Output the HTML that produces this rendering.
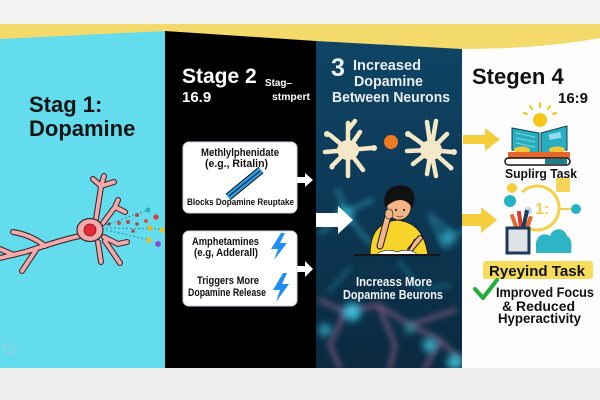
<!DOCTYPE html>
<html><head><meta charset="utf-8"><style>
html,body{margin:0;padding:0;width:600px;height:400px;overflow:hidden;background:#f2f2f0}
svg{display:block}
text{font-family:"Liberation Sans",Arial,sans-serif;font-weight:bold}
</style></head><body>
<svg width="600" height="400" viewBox="0 0 600 400" xmlns="http://www.w3.org/2000/svg">
<defs>
<filter id="b3" x="-30%" y="-30%" width="160%" height="160%"><feGaussianBlur stdDeviation="3"/></filter>
<filter id="b5" x="-50%" y="-50%" width="200%" height="200%"><feGaussianBlur stdDeviation="4"/></filter>
<linearGradient id="bl" x1="0" y1="0" x2="0" y2="1"><stop offset="0" stop-color="#0f4464"/><stop offset="0.45" stop-color="#0d3a57"/><stop offset="1" stop-color="#0a2940"/></linearGradient>
<clipPath id="c3"><polygon points="316,41 462,49 462,368 316,368"/></clipPath>
</defs>
<rect width="600" height="400" fill="#f2f2f0"/>
<rect x="0" y="368" width="600" height="32" fill="#eeeeec"/>
<rect x="0" y="24" width="600" height="40" fill="#f4da6a"/>
<path d="M462,49 Q540,49 600,38 L600,368 L462,368Z" fill="#fdfdfd"/>
<polygon points="0,39 165,31 165,368 0,368" fill="#63dded"/>
<polygon points="165,31 316,41 316,368 165,368" fill="#000"/>
<polygon points="316,41 462,49 462,368 316,368" fill="url(#bl)"/>

<!-- panel 3 blurred network -->
<g clip-path="url(#c3)">
<g filter="url(#b3)" fill="none" stroke-linecap="round">
 <path d="M322,232 L345,212 L372,200 M345,212 L338,190 M345,212 L362,234 L380,252" stroke="#2f9fb8" stroke-width="4" opacity=".6"/>
 <path d="M430,215 L455,235 L470,228 M430,215 L445,248" stroke="#2f9fb8" stroke-width="4" opacity=".5"/>
 <path d="M320,300 L345,312 L378,305 L410,325 L440,340 M378,305 L395,345 L390,368 M345,312 L330,345 L340,368 M410,325 L455,310 M440,340 L460,360 M440,340 L425,368" stroke="#8a5b80" stroke-width="4" opacity=".8"/>
 <path d="M350,268 L330,290 M400,262 L420,290 L450,285" stroke="#2a8fa8" stroke-width="3" opacity=".6"/>
</g>
<g filter="url(#b5)" opacity=".85">
 <circle cx="352" cy="312" r="9" fill="#3fd0e8"/>
 <circle cx="430" cy="345" r="7" fill="#3fc8e0"/>
 <circle cx="455" cy="362" r="8" fill="#3fc8e0"/>
 <circle cx="325" cy="330" r="6" fill="#35b8d0"/>
 <circle cx="345" cy="215" r="8" fill="#36b8d4"/>
 <circle cx="448" cy="238" r="7" fill="#36b8d4"/>
 <circle cx="410" cy="328" r="5" fill="#33aabb"/>
</g>
</g>

<!-- panel 1 -->
<text x="29" y="112" font-size="22" fill="#141414">Stag 1:</text>
<text x="29" y="136" font-size="22" fill="#141414">Dopamine</text>
<g fill="none" stroke-linecap="round" stroke-linejoin="round">
 <g stroke="#3a2a2c" stroke-width="6">
  <path d="M80,236 C60,240 45,246 25,252 L0,258 M45,246 C35,238 25,234 13,232 M36,250 L28,262 L22,271 M14,255 L0,249 M96,219 C98,205 100,195 101,186 M101,186 L93,179 M101,186 L104,176 M101,186 L114,182 M103,223 L115,207 L118,200 M115,207 L125,212 M104,237 L118,244 L127,242 M98,242 L101,262 M105,241 L120,263"/>
 </g>
 <g stroke="#f6a9ab" stroke-width="3.8">
  <path d="M80,236 C60,240 45,246 25,252 L0,258 M45,246 C35,238 25,234 13,232 M36,250 L28,262 L22,271 M14,255 L0,249 M96,219 C98,205 100,195 101,186 M101,186 L93,179 M101,186 L104,176 M101,186 L114,182 M103,223 L115,207 L118,200 M115,207 L125,212 M104,237 L118,244 L127,242 M98,242 L101,262 M105,241 L120,263"/>
 </g>
</g>
<ellipse cx="90" cy="230" rx="13" ry="11.5" fill="#f6a9ab" stroke="#3a2a2c" stroke-width="1.2"/>
<circle cx="90" cy="230" r="6" fill="#e8283a" stroke="#6a1a1a" stroke-width=".8"/>
<g stroke="#3d8f9e" stroke-width="1" stroke-dasharray="2,2" fill="none">
 <path d="M106,225 L148,210 M106,228 L160,229 M106,230 L150,240"/>
</g>
<circle cx="109" cy="224" r="1.6" fill="#8a3a3a"/>
<circle cx="119" cy="223" r="2" fill="#c0504a"/>
<circle cx="128" cy="222" r="2" fill="#b04a4a"/>
<circle cx="137" cy="215" r="2" fill="#b04a4a"/>
<circle cx="148" cy="210" r="2.6" fill="#2bb3b8"/>
<circle cx="156" cy="217" r="2.6" fill="#e03a3a"/>
<circle cx="146" cy="221" r="2" fill="#c55a3a"/>
<circle cx="137" cy="224" r="1.8" fill="#a04a4a"/>
<circle cx="133" cy="231" r="1.8" fill="#a04a4a"/>
<circle cx="150" cy="228" r="2.6" fill="#f0b020"/>
<circle cx="162" cy="230" r="2.6" fill="#e8c020"/>
<circle cx="149" cy="240" r="2.6" fill="#e8c020"/>
<circle cx="158" cy="244" r="2.9" fill="#8a4ad0"/>
<circle cx="9" cy="349" r="5" fill="none" stroke="#9fcfd8" stroke-width="1.5" opacity=".7"/>

<!-- panel 2 -->
<text x="182" y="83" font-size="21" fill="#fff">Stage 2</text>
<text x="182" y="102" font-size="15" fill="#fff">16.9</text>
<text x="265" y="86" font-size="10.5" fill="#fff" textLength="27" lengthAdjust="spacingAndGlyphs">Stag–</text>
<text x="272" y="100" font-size="10.5" fill="#fff" textLength="38" lengthAdjust="spacingAndGlyphs">stmpert</text>

<rect x="183" y="142" width="114" height="71" rx="6" fill="#fff" stroke="#c8d6e2" stroke-width="1"/>
<text x="201" y="156" font-size="11" fill="#111" textLength="78" lengthAdjust="spacingAndGlyphs">Methlylphenidate</text>
<text x="205" y="167" font-size="11" fill="#111" textLength="63" lengthAdjust="spacingAndGlyphs">(e.g., Ritalin)</text>
<line x1="228" y1="197" x2="261" y2="170" stroke="#111" stroke-width="8" stroke-linecap="butt"/>
<line x1="228" y1="197" x2="261" y2="170" stroke="#2a9fe8" stroke-width="6"/>
<line x1="229" y1="196" x2="260" y2="171" stroke="#0d2c4a" stroke-width="1.3"/>
<text x="187" y="205" font-size="9.5" fill="#111" textLength="107" lengthAdjust="spacingAndGlyphs">Blocks Dopamine Reuptake</text>

<rect x="183" y="231" width="114" height="75" rx="6" fill="#fff" stroke="#c8d6e2" stroke-width="1"/>
<text x="192" y="245" font-size="11" fill="#111" textLength="67" lengthAdjust="spacingAndGlyphs">Amphetamines</text>
<text x="194" y="256" font-size="11" fill="#111" textLength="64" lengthAdjust="spacingAndGlyphs">(e.g, Adderall)</text>
<text x="197" y="284" font-size="11" fill="#111" textLength="62" lengthAdjust="spacingAndGlyphs">Triggers More</text>
<text x="188" y="296" font-size="11" fill="#111" textLength="78" lengthAdjust="spacingAndGlyphs">Dopamine Release</text>
<path d="M281,233 L271,249 L278,249 L274,260 L287,243 L280,243 L285,233Z" fill="#1e8ff0"/>
<path d="M283,273 L273,290 L280,290 L276,302 L289,284 L282,284 L287,273Z" fill="#1e8ff0"/>

<path d="M297,177 L305,177 L305,173 L313,180 L305,187 L305,183 L297,183Z" fill="#fff"/>
<path d="M297,266 L305,266 L305,261 L313,269 L305,277 L305,272 L297,272Z" fill="#fff"/>

<!-- panel 3 -->
<text x="331" y="76" font-size="25" fill="#eef2f4">3</text>
<text x="353" y="70" font-size="15" fill="#e9eef0" textLength="68" lengthAdjust="spacingAndGlyphs">Increased</text>
<text x="354" y="86" font-size="15" fill="#e9eef0" textLength="69" lengthAdjust="spacingAndGlyphs">Dopamine</text>
<text x="332" y="102" font-size="15" fill="#e9eef0" textLength="118" lengthAdjust="spacingAndGlyphs">Between Neurons</text>

<g stroke="#f4e8c6" stroke-linecap="round" fill="none" stroke-width="4.5">
 <path d="M348,150 L348,123 M348,130 L355,121 M348,150 L330,135 M348,150 L325,152 M348,150 L332,166 M348,150 L348,176 M348,150 L363,170 M348,150 L372,148 M348,150 L360,132"/>
 <path d="M431,150 L427,122 M431,150 L436,121 M431,150 L410,135 M431,150 L407,151 M431,150 L413,164 M431,150 L427,174 M431,150 L436,176 M431,150 L452,152 M431,150 L447,134 M431,150 L450,167"/>
</g>
<g fill="#f4e8c6">
 <ellipse cx="348" cy="150" rx="11" ry="10"/>
 <ellipse cx="431" cy="150" rx="11" ry="10"/>
 <circle cx="327" cy="134" r="3"/><circle cx="374" cy="148" r="3"/><circle cx="332" cy="167" r="2.5"/>
 <circle cx="408" cy="134" r="3"/><circle cx="454" cy="152" r="3"/><circle cx="451" cy="168" r="2.5"/>
</g>
<circle cx="391" cy="142" r="7" fill="#f07a20"/>

<path d="M316,213 L338,213 L338,206 L353,220 L338,234 L338,227 L316,227Z" fill="#fff"/>

<!-- boy -->
<path d="M370,255 C370,235 377,222 397,220 C417,222 425,235 428,255 Z" fill="#f7d42a" stroke="#1a1a1a" stroke-width="1"/>
<path d="M380,246 L388,216" stroke="#1a1a1a" stroke-width="7" stroke-linecap="round"/>
<path d="M380,246 L388,216" stroke="#f3b487" stroke-width="5" stroke-linecap="round"/>
<ellipse cx="399" cy="207" rx="12" ry="13" fill="#f3b487" stroke="#1a1a1a" stroke-width=".8"/>
<path d="M385,207 C381,190 394,183 405,186 C416,188 416,201 412,208 C407,199 399,198 391,203 Z" fill="#111"/>
<circle cx="396" cy="210" r="1" fill="#111"/><circle cx="404" cy="210" r="1" fill="#111"/>
<path d="M397,216 Q400,218 403,216" stroke="#7a3a2a" stroke-width=".8" fill="none"/>
<ellipse cx="389" cy="214" rx="4" ry="5" fill="#f3b487" stroke="#1a1a1a" stroke-width=".6"/>
<path d="M420,238 L410,250" stroke="#1a1a1a" stroke-width="6" stroke-linecap="round"/>
<path d="M420,238 L410,250" stroke="#f3b487" stroke-width="4" stroke-linecap="round"/>
<line x1="407" y1="253" x2="415" y2="239" stroke="#111" stroke-width="1.2"/>
<path d="M378,253 Q388,248 397,252 Q406,248 416,253 L416,255 L378,255Z" fill="#fff" stroke="#222" stroke-width=".6"/>
<rect x="354" y="254" width="86" height="2.2" fill="#161616"/>

<text x="356" y="286" font-size="12.5" fill="#f2f4f5" textLength="76" lengthAdjust="spacingAndGlyphs">Increass More</text>
<text x="343" y="299" font-size="12.5" fill="#f2f4f5" textLength="100" lengthAdjust="spacingAndGlyphs">Dopamine Beurons</text>

<!-- panel 4 -->
<text x="472" y="84" font-size="22" fill="#111">Stegen 4</text>
<text x="558" y="103" font-size="15" fill="#111">16:9</text>

<path d="M463,135 L485,135 L485,128 L500,139.5 L485,151 L485,144 L463,144Z" fill="#f4cd3c"/>
<path d="M462,214 L481,214 L481,207 L497,220 L481,233 L481,226 L462,226Z" fill="#f4cd3c"/>

<!-- book icon -->
<g stroke="#f5c518" stroke-width="2" stroke-linecap="round">
 <line x1="540" y1="103" x2="540" y2="107"/>
 <line x1="530" y1="106" x2="532" y2="109"/>
 <line x1="550" y1="106" x2="548" y2="109"/>
 <line x1="524" y1="113" x2="527" y2="114"/>
 <line x1="556" y1="113" x2="553" y2="114"/>
</g>
<circle cx="540" cy="120" r="7" fill="#f5c518"/>
<path d="M512,128 L539,133 L539,155 L512,150Z" fill="#27aebf" stroke="#0f3b53" stroke-width="1"/>
<path d="M541,133 L567,126 L567,150 L541,155Z" fill="#27aebf" stroke="#0f3b53" stroke-width="1"/>
<path d="M516,133 L535,137 M516,138 L535,142 M516,143 L535,147" stroke="#7fd6e2" stroke-width="1"/>
<rect x="549" y="133" width="12" height="6" fill="#8fdce6" transform="rotate(-12 555 136)"/>
<ellipse cx="522" cy="150" rx="8" ry="3.5" fill="#f5c83a"/>
<ellipse cx="557" cy="150" rx="8" ry="3.5" fill="#f5c83a"/>
<rect x="508" y="152" width="62" height="6" rx="1" fill="#e8662a"/>
<rect x="505" y="158" width="65" height="7" rx="3.5" fill="#fff" stroke="#111" stroke-width="1.5"/>
<rect x="545" y="159" width="22" height="5" fill="#1d7f8a"/>
<text x="505" y="178" font-size="13" fill="#111" textLength="72" lengthAdjust="spacingAndGlyphs">Suplirg Task</text>

<!-- clock icon -->
<path d="M522,192 A22,22 0 1 1 528,228" fill="none" stroke="#f5cf4a" stroke-width="3"/>
<text x="535" y="214" font-size="16" fill="#f5cf4a" font-weight="normal">1:</text>
<circle cx="512" cy="188" r="5" fill="#f5cf3a"/>
<circle cx="510" cy="201" r="6" fill="#21b3c4"/>
<circle cx="528" cy="211" r="4" fill="#c6d8e2"/>
<rect x="556" y="178" width="14" height="14" fill="#f5d55a"/>
<line x1="560" y1="209" x2="575" y2="209" stroke="#f5cf4a" stroke-width="2"/>
<circle cx="576" cy="209" r="5" fill="#21b3c4"/>
<rect x="512" y="214" width="4" height="15" fill="#e8662a" transform="rotate(-20 514 221)"/>
<rect x="518" y="211" width="4" height="18" fill="#d8382a" transform="rotate(-8 520 220)"/>
<rect x="523" y="210" width="4" height="19" fill="#1d3a5c" transform="rotate(12 525 220)"/>
<rect x="527" y="216" width="4" height="13" fill="#e8662a" transform="rotate(20 529 222)"/>
<rect x="507" y="228" width="22" height="25" fill="#dfe3e6" stroke="#1d3a5c" stroke-width="3"/>
<path d="M536,253 L536,244 C536,236 544,232 550,236 C552,228 564,226 567,236 C572,238 572,246 571,253Z" fill="#2db5c6"/>

<rect x="483" y="261" width="110" height="18" rx="3" fill="#f5dc5a"/>
<text x="489" y="276" font-size="15" fill="#111" textLength="96" lengthAdjust="spacingAndGlyphs">Ryeyind Task</text>
<path d="M475,289 L483,298 L497,280" fill="none" stroke="#1fae3a" stroke-width="4" stroke-linecap="round" stroke-linejoin="round"/>
<text x="496" y="297" font-size="14" fill="#111" textLength="98" lengthAdjust="spacingAndGlyphs">Improved Focus</text>
<text x="502" y="311" font-size="14" fill="#111" textLength="73" lengthAdjust="spacingAndGlyphs">&amp; Reduced</text>
<text x="498" y="323" font-size="14" fill="#111" textLength="83" lengthAdjust="spacingAndGlyphs">Hyperactivity</text>
</svg>
</body></html>
